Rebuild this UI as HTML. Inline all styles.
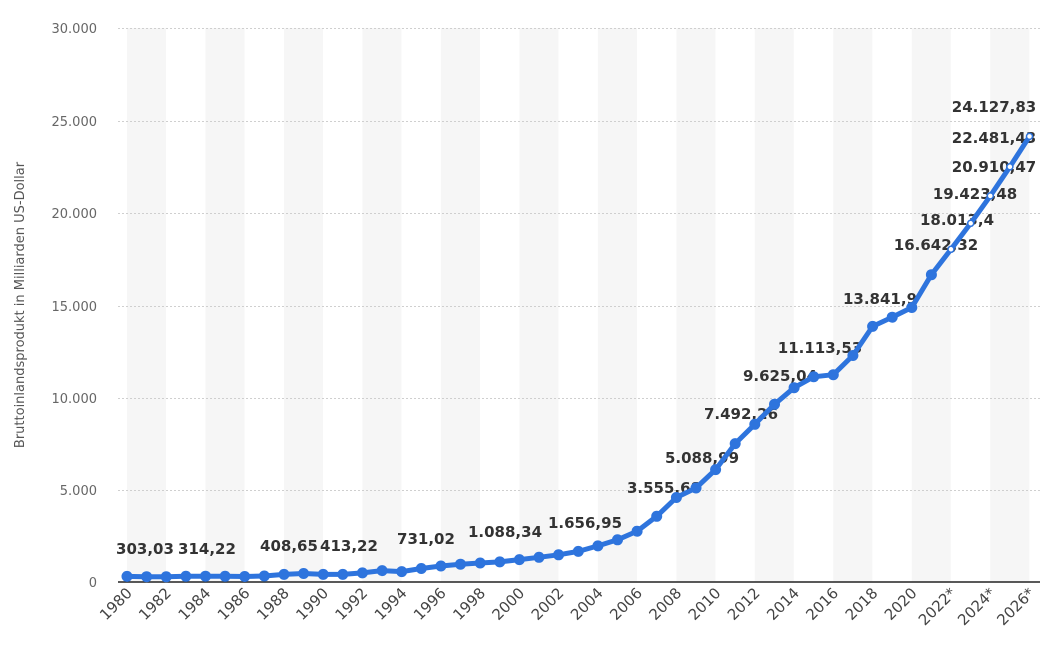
<!DOCTYPE html>
<html><head><meta charset="utf-8"><style>
html,body{margin:0;padding:0;background:#fff;}
svg text{font-family:"DejaVu Sans","Liberation Sans",sans-serif;}
</style></head><body>
<svg width="1047" height="660" xmlns="http://www.w3.org/2000/svg">
<g fill="#f6f6f6">
<rect x="127" y="28" width="39" height="554"/><rect x="205.5" y="28" width="39" height="554"/><rect x="284" y="28" width="39" height="554"/><rect x="362.4" y="28" width="39" height="554"/><rect x="440.9" y="28" width="39" height="554"/><rect x="519.4" y="28" width="39" height="554"/><rect x="597.9" y="28" width="39" height="554"/><rect x="676.4" y="28" width="39" height="554"/><rect x="754.8" y="28" width="39" height="554"/><rect x="833.3" y="28" width="39" height="554"/><rect x="911.8" y="28" width="39" height="554"/><rect x="990.3" y="28" width="39" height="554"/>
</g>
<g stroke="#cfcfcf" stroke-dasharray="2,2" stroke-width="1">
<line x1="118" x2="1040" y1="28.5" y2="28.5"/><line x1="118" x2="1040" y1="121.5" y2="121.5"/><line x1="118" x2="1040" y1="213.5" y2="213.5"/><line x1="118" x2="1040" y1="306.5" y2="306.5"/><line x1="118" x2="1040" y1="398.5" y2="398.5"/><line x1="118" x2="1040" y1="490.5" y2="490.5"/>
</g>
<line x1="118" x2="1040" y1="582" y2="582" stroke="#222" stroke-width="1.5"/>
<g font-size="13" fill="#666" text-anchor="end">
<text x="97" y="33">30.000</text><text x="97" y="126">25.000</text><text x="97" y="218">20.000</text><text x="97" y="311">15.000</text><text x="97" y="403">10.000</text><text x="97" y="495">5.000</text><text x="97" y="587">0</text>
</g>
<text transform="translate(24,305) rotate(-90)" font-size="13" fill="#555" text-anchor="middle">Bruttoinlandsprodukt in Milliarden US-Dollar</text>
<g font-size="15" fill="#444" text-anchor="end">
<text transform="translate(133,594) rotate(-45)">1980</text>
<text transform="translate(172,594) rotate(-45)">1982</text>
<text transform="translate(211.5,594) rotate(-45)">1984</text>
<text transform="translate(250.7,594) rotate(-45)">1986</text>
<text transform="translate(290,594) rotate(-45)">1988</text>
<text transform="translate(329.2,594) rotate(-45)">1990</text>
<text transform="translate(368.4,594) rotate(-45)">1992</text>
<text transform="translate(407.7,594) rotate(-45)">1994</text>
<text transform="translate(446.9,594) rotate(-45)">1996</text>
<text transform="translate(486.2,594) rotate(-45)">1998</text>
<text transform="translate(525.4,594) rotate(-45)">2000</text>
<text transform="translate(564.6,594) rotate(-45)">2002</text>
<text transform="translate(603.9,594) rotate(-45)">2004</text>
<text transform="translate(643.1,594) rotate(-45)">2006</text>
<text transform="translate(682.4,594) rotate(-45)">2008</text>
<text transform="translate(721.6,594) rotate(-45)">2010</text>
<text transform="translate(760.8,594) rotate(-45)">2012</text>
<text transform="translate(800.1,594) rotate(-45)">2014</text>
<text transform="translate(839.3,594) rotate(-45)">2016</text>
<text transform="translate(878.6,594) rotate(-45)">2018</text>
<text transform="translate(917.8,594) rotate(-45)">2020</text>
<text transform="translate(957,594) rotate(-45)">2022*</text>
<text transform="translate(996.3,594) rotate(-45)">2024*</text>
<text transform="translate(1035.5,594) rotate(-45)">2026*</text>
</g>
<g font-size="15" font-weight="bold" fill="#333" text-anchor="middle">
<text x="145" y="554">303,03</text>
<text x="207" y="554">314,22</text>
<text x="289" y="551">408,65</text>
<text x="349" y="551">413,22</text>
<text x="426" y="544">731,02</text>
<text x="505" y="537">1.088,34</text>
<text x="585" y="528">1.656,95</text>
<text x="664" y="493">3.555,68</text>
<text x="702" y="463">5.088,99</text>
<text x="741" y="419">7.492,26</text>
<text x="780" y="381">9.625,04</text>
<text x="820" y="353">11.113,53</text>
<text x="880" y="304">13.841,9</text>
<text x="936" y="250">16.642,32</text>
<text x="957" y="225">18.013,4</text>
<text x="975" y="199">19.423,48</text>
<text x="994" y="172">20.910,47</text>
<text x="994" y="143">22.481,43</text>
<text x="994" y="112">24.127,83</text>
</g>
<polyline fill="none" stroke="#2e74dd" stroke-width="5" stroke-linejoin="round" stroke-linecap="round" points="127,576.4 146.6,576.7 166.2,576.8 185.9,576.3 205.5,576.2 225.1,576.3 244.7,576.5 264.3,576 284,574.4 303.6,573.5 323.2,574.4 342.8,574.4 362.4,572.9 382.1,570.6 401.7,571.6 421.3,568.5 440.9,566 460.5,564.2 480.2,563 499.8,561.9 519.4,559.6 539,557.3 558.6,554.8 578.3,551.4 597.9,545.9 617.5,539.8 637.1,531.2 656.7,516.3 676.4,497.5 696,488 715.6,469.6 735.2,443.6 754.8,424.3 774.5,404.3 794.1,387.7 813.7,376.8 833.3,374.7 852.9,355.5 872.6,326.4 892.2,317.2 911.8,307.5 931.4,274.7 951,249.3 970.7,223.3 990.3,195.9 1009.9,166.8 1029.5,136.4"/>
<g fill="#2e74dd">
<circle cx="127" cy="576.4" r="5.5"/><circle cx="146.6" cy="576.7" r="5.5"/><circle cx="166.2" cy="576.8" r="5.5"/><circle cx="185.9" cy="576.3" r="5.5"/><circle cx="205.5" cy="576.2" r="5.5"/><circle cx="225.1" cy="576.3" r="5.5"/><circle cx="244.7" cy="576.5" r="5.5"/><circle cx="264.3" cy="576" r="5.5"/><circle cx="284" cy="574.4" r="5.5"/><circle cx="303.6" cy="573.5" r="5.5"/><circle cx="323.2" cy="574.4" r="5.5"/><circle cx="342.8" cy="574.4" r="5.5"/><circle cx="362.4" cy="572.9" r="5.5"/><circle cx="382.1" cy="570.6" r="5.5"/><circle cx="401.7" cy="571.6" r="5.5"/><circle cx="421.3" cy="568.5" r="5.5"/><circle cx="440.9" cy="566" r="5.5"/><circle cx="460.5" cy="564.2" r="5.5"/><circle cx="480.2" cy="563" r="5.5"/><circle cx="499.8" cy="561.9" r="5.5"/><circle cx="519.4" cy="559.6" r="5.5"/><circle cx="539" cy="557.3" r="5.5"/><circle cx="558.6" cy="554.8" r="5.5"/><circle cx="578.3" cy="551.4" r="5.5"/><circle cx="597.9" cy="545.9" r="5.5"/><circle cx="617.5" cy="539.8" r="5.5"/><circle cx="637.1" cy="531.2" r="5.5"/><circle cx="656.7" cy="516.3" r="5.5"/><circle cx="676.4" cy="497.5" r="5.5"/><circle cx="696" cy="488" r="5.5"/><circle cx="715.6" cy="469.6" r="5.5"/><circle cx="735.2" cy="443.6" r="5.5"/><circle cx="754.8" cy="424.3" r="5.5"/><circle cx="774.5" cy="404.3" r="5.5"/><circle cx="794.1" cy="387.7" r="5.5"/><circle cx="813.7" cy="376.8" r="5.5"/><circle cx="833.3" cy="374.7" r="5.5"/><circle cx="852.9" cy="355.5" r="5.5"/><circle cx="872.6" cy="326.4" r="5.5"/><circle cx="892.2" cy="317.2" r="5.5"/><circle cx="911.8" cy="307.5" r="5.5"/><circle cx="931.4" cy="274.7" r="5.5"/>
</g>
<g fill="#fff" stroke="#2e74dd" stroke-width="1.5">
<circle cx="951" cy="249.3" r="3"/><circle cx="970.7" cy="223.3" r="3"/><circle cx="990.3" cy="195.9" r="3"/><circle cx="1009.9" cy="166.8" r="3"/><circle cx="1029.5" cy="136.4" r="3"/>
</g>
</svg>
</body></html>
